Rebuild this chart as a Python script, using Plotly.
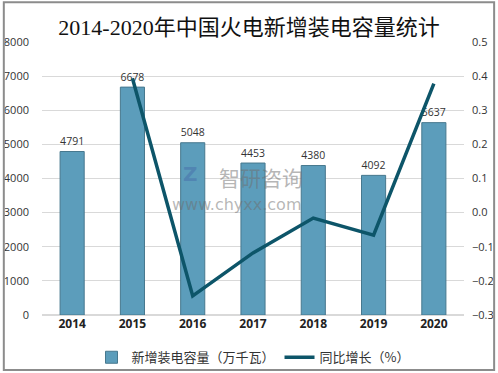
import plotly.graph_objects as go

years = ["2014", "2015", "2016", "2017", "2018", "2019", "2020"]
capacity = [4791, 6678, 5048, 4453, 4380, 4092, 5637]
growth = [None, 0.394, -0.244, -0.118, -0.016, -0.066, 0.378]

bar_name = "新增装电容量（万千瓦）"
line_name = "同比增长（%）"
title_text = "2014-2020年中国火电新增装电容量统计"

fig = go.Figure()
fig.add_trace(go.Bar(
    x=years, y=capacity, name=bar_name,
    marker=dict(color="#5c9dbb", line=dict(color="#47788e", width=1)),
    width=0.4,
    text=[str(v) for v in capacity], textposition="outside",
    textfont=dict(family="Open Sans, Noto Sans CJK SC", size=12, color="#333333"),
    cliponaxis=False,
))
fig.add_trace(go.Scatter(
    x=years, y=growth, name=line_name, yaxis="y2", mode="lines",
    line=dict(color="#0d5569", width=3.5),
    connectgaps=False,
))

fig.update_layout(
    width=498, height=373,
    margin=dict(l=42, r=34, t=42, b=58, autoexpand=False),
    paper_bgcolor="white", plot_bgcolor="white",
    title=dict(text=title_text, x=0.5, xanchor="center", y=0.927, yanchor="middle",
               font=dict(family="Liberation Serif, Noto Sans CJK SC", size=22, color="#111111")),
    font=dict(family="Noto Sans CJK SC, Open Sans", color="#333333"),
    xaxis=dict(showgrid=False, showline=False, ticks="",
               tickfont=dict(family="Open Sans, Noto Sans CJK SC", size=12, color="#222222", weight="bold")),
    yaxis=dict(range=[0, 8000], dtick=1000, showgrid=True, gridcolor="#d9d9d9", gridwidth=1,
               zeroline=True, zerolinecolor="#d9d9d9", showline=False, ticks="",
               tickfont=dict(family="Open Sans", size=11, color="#333333"), ticklabelstandoff=12),
    yaxis2=dict(range=[-0.3, 0.5], dtick=0.1, tickformat=".1f", overlaying="y", side="right",
                showgrid=False, zeroline=False, showline=False, ticks="",
                tickfont=dict(family="Open Sans", size=11, color="#333333"), ticklabelstandoff=7),
    legend=dict(orientation="h", x=0.5, xanchor="center", y=-0.1, yanchor="top",
                font=dict(family="Noto Sans CJK SC", size=13, color="#333333"),
                bgcolor="rgba(0,0,0,0)"),
    showlegend=True,
    bargap=0.6,
    shapes=[dict(type="rect", xref="paper", yref="paper", x0=-0.0905, x1=1.0714, y0=-0.2015, y1=1.146,
                 line=dict(color="#8c8c8c", width=2), fillcolor="rgba(0,0,0,0)", layer="above")],
    annotations=[
        dict(text="智研咨询", x=0.52, y=0.505, xref="paper", yref="paper", showarrow=False,
             font=dict(family="Noto Sans CJK SC", size=21, color="rgba(110,110,110,0.5)")),
        dict(text="www.chyxx.com", x=0.46, y=0.405, xref="paper", yref="paper", showarrow=False,
             font=dict(family="DejaVu Sans", size=16, color="rgba(110,110,110,0.5)")),
        dict(text="Z", x=0.33, y=0.515, xref="paper", yref="paper", showarrow=False,
             font=dict(family="DejaVu Sans", size=20, color="rgba(70,110,170,0.5)", weight="bold")),
    ],
)

fig.write_html("out.html", post_script="document.body.style.margin='0';",
               config={"displayModeBar": False})
